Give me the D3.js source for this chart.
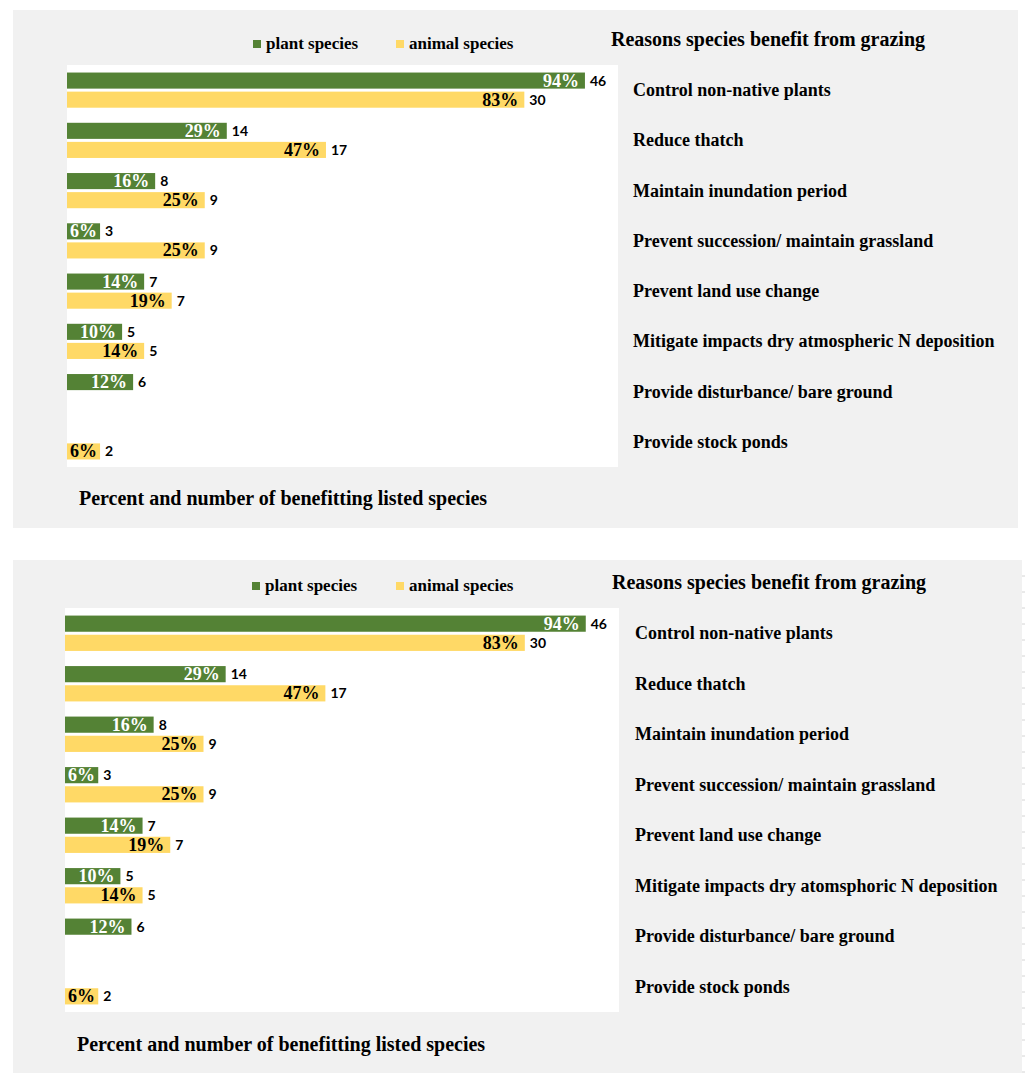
<!DOCTYPE html>
<html>
<head>
<meta charset="utf-8">
<script src="https://cdn.jsdelivr.net/npm/d3@7"></script>
<style>
  body { margin: 0; background: #fff; }
  svg { display: block; }
  text { font-family: "Liberation Serif", "Times New Roman", serif; font-weight: bold; fill: #000; }
  .count { font-family: Lato, "Open Sans", sans-serif; font-weight: 700; font-size: 14px; }
</style>
</head>
<body>
<script>
///////////////////   Data   /////////////////

var categories1 = [
  "Control non-native plants",
  "Reduce thatch",
  "Maintain inundation period",
  "Prevent succession/ maintain grassland",
  "Prevent land use change",
  "Mitigate impacts dry atmospheric N deposition",
  "Provide disturbance/ bare ground",
  "Provide stock ponds"
];
// second copy of the chart has a typo in one label
var categories2 = [
  "Control non-native plants",
  "Reduce thatch",
  "Maintain inundation period",
  "Prevent succession/ maintain grassland",
  "Prevent land use change",
  "Mitigate impacts dry atomsphoric N deposition",
  "Provide disturbance/ bare ground",
  "Provide stock ponds"
];

var plantPct  = [94, 29, 16, 6, 14, 10, 12, null],
    plantN    = [46, 14, 8, 3, 7, 5, 6, null],
    animalPct = [83, 47, 25, 25, 19, 14, null, 6],
    animalN   = [30, 17, 9, 9, 7, 5, null, 2];

var seriesNames = ["plant species", "animal species"];
var xDomain = [0, 100];

var titleText = "Reasons species benefit from grazing",
    axisTitle = "Percent and number of benefitting listed species";

///////////////////   Parameters   /////////////////

var colors = {
  "plant": "#548235",
  "animal": "#FFD966",
  "panel": "#F1F1F1"
};

var barGap = 3;   // px between the two bars of a category

// the picture holds the same chart twice, with slightly different frames
var panels = [
  { cats: categories1, bg: [13, 10, 1005, 518], plot: [67, 65, 551, 402],
    legendY: 40, legendX: [253, 396], titleX: 611, titleY: 46, labelX: 633,
    axisX: 79, axisY: 505 },
  { cats: categories2, bg: [13, 560, 1009, 513], plot: [65, 608, 554, 404],
    legendY: 582, legendX: [252, 396], titleX: 612, titleY: 589, labelX: 635,
    axisX: 77, axisY: 1051 }
];

////////////////	Main rendering      //////////////

var svg = d3.select("body").append("svg")
  .attr("width", 1025)
  .attr("height", 1075);

panels.forEach(drawPanel);

// faint sheet ticks on the lower panel edge
var p2 = panels[1];
svg.append("g").selectAll("line")
  .data(d3.range(p2.bg[1] + 16, p2.bg[1] + p2.bg[3], 16))
  .join("line")
    .attr("x1", p2.bg[0] + p2.bg[2]).attr("x2", p2.bg[0] + p2.bg[2] + 3)
    .attr("y1", function(d){ return d; }).attr("y2", function(d){ return d; })
    .attr("stroke", "#d4d4d4");

function drawPanel(p){
  var g = svg.append("g");

  g.append("rect")
    .attr("x", p.bg[0]).attr("y", p.bg[1])
    .attr("width", p.bg[2]).attr("height", p.bg[3])
    .attr("fill", colors.panel);

  g.append("rect")
    .attr("x", p.plot[0]).attr("y", p.plot[1])
    .attr("width", p.plot[2]).attr("height", p.plot[3])
    .attr("fill", "#fff");

  var x = d3.scaleLinear().domain(xDomain).range([p.plot[0], p.plot[0] + p.plot[2]]);
  var y = d3.scaleBand().domain(p.cats)
    .range([p.plot[1], p.plot[1] + p.plot[3]])
    .paddingInner(0.3).paddingOuter(0.15);
  var barH = (y.bandwidth() - barGap) / 2;

  var rows = p.cats.map(function(c, i){
    return [
      { cat: c, k: 0, pct: plantPct[i],  n: plantN[i],  color: colors.plant,  txt: "#fff" },
      { cat: c, k: 1, pct: animalPct[i], n: animalN[i], color: colors.animal, txt: "#000" }
    ];
  });
  var bars = d3.merge(rows).filter(function(d){ return d.pct != null; });

  function barY(d){ return y(d.cat) + d.k * (barH + barGap); }

  var b = g.selectAll(".bar").data(bars).join("g").attr("class", "bar");

  b.append("rect")
    .attr("x", x(0))
    .attr("y", barY)
    .attr("width", function(d){ return x(d.pct) - x(0); })
    .attr("height", barH)
    .attr("fill", function(d){ return d.color; });

  // percentage inside the end of the bar
  b.append("text")
    .attr("x", function(d){ return x(d.pct) - 6; })
    .attr("y", function(d){ return barY(d) + barH / 2 + 6; })
    .attr("text-anchor", "end")
    .style("font-size", "18px")
    .style("fill", function(d){ return d.txt; })
    .text(function(d){ return d.pct + "%"; })
    .each(function(d){
      // pull small labels back so they stay on the bar
      var w = this.getComputedTextLength(), bw = x(d.pct) - x(0);
      var inset = Math.max(1, Math.min(6, (bw - w) / 2));
      d3.select(this).attr("x", x(d.pct) - inset);
    });

  // count of species just after the bar
  b.append("text")
    .attr("class", "count")
    .attr("x", function(d){ return x(d.pct) + 5; })
    .attr("y", function(d){ return barY(d) + barH / 2 + 5; })
    .text(function(d){ return d.n; });

  // category labels on the right, in the grey margin
  g.selectAll(".cat").data(p.cats).join("text")
    .attr("class", "cat")
    .attr("x", p.labelX)
    .attr("y", function(d){ return y(d) + y.bandwidth() / 2 + 6; })
    .style("font-size", "18px")
    .text(function(d){ return d; });

  g.append("text")
    .attr("x", p.titleX).attr("y", p.titleY)
    .style("font-size", "20px")
    .text(titleText);

  g.append("text")
    .attr("x", p.axisX).attr("y", p.axisY)
    .style("font-size", "20px")
    .text(axisTitle);

  // legend
  var lg = g.selectAll(".legend").data(seriesNames).join("g").attr("class", "legend")
    .attr("transform", function(d, i){ return "translate(" + p.legendX[i] + "," + p.legendY + ")"; });
  lg.append("rect")
    .attr("width", 8).attr("height", 8)
    .attr("fill", function(d, i){ return i ? colors.animal : colors.plant; });
  lg.append("text")
    .attr("x", 13).attr("y", 9)
    .style("font-size", "17px")
    .text(function(d){ return d; });
}
</script>
</body>
</html>
